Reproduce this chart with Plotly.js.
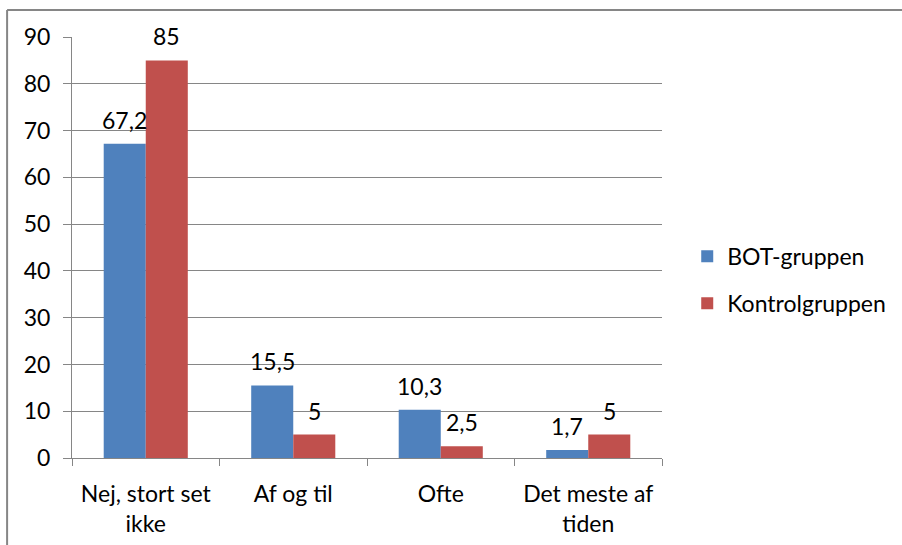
<!DOCTYPE html>
<html><head><meta charset="utf-8">
<script src="https://cdn.plot.ly/plotly-3.0.1.min.js"></script>
<style>html,body{margin:0;padding:0;background:#fff}#chart{width:902px;height:545px}</style>
</head><body><div id="chart"></div>
<script>
const categories = ["Nej, stort set<br>ikke", "Af og til", "Ofte", "Det meste af<br>tiden"];
const botValues = [67.2, 15.5, 10.3, 1.7];
const kontrolValues = [85, 5, 2.5, 5];
const seriesNames = ["BOT-gruppen", "Kontrolgruppen"];
const yTicks = [0, 10, 20, 30, 40, 50, 60, 70, 80, 90];

const fmt = v => String(v).replace('.', ',');
const font = "Lato, 'Open Sans', sans-serif";
const FS = 23;

const traces = [
  {type:'bar', x:categories, y:botValues, name:seriesNames[0], legendgroup:'a',
   marker:{color:'#4F81BD'}, hoverinfo:'none'},
  {type:'bar', x:categories, y:kontrolValues, name:seriesNames[1], legendgroup:'b',
   marker:{color:'#C0504D'}, hoverinfo:'none'}
];

const annotations = [];
[[botValues, -21], [kontrolValues, 21]].forEach(([vals, dx]) => {
  vals.forEach((v, i) => annotations.push({
    x: categories[i], y: v, xref:'x', yref:'y', text: fmt(v), showarrow:false,
    xanchor:'center', yanchor:'bottom', xshift: dx, yshift: 8,
    font:{family:font, size:FS, color:'#000'}
  }));
});

const layout = {
  width:902, height:545,
  margin:{l:72, r:239, t:37, b:87},
  paper_bgcolor:'#fff', plot_bgcolor:'#fff',
  font:{family:font, size:FS, color:'#000'},
  barmode:'group', bargap:0.43, bargroupgap:0,
  showlegend:true,
  legend:{x:1.041, y:0.423, xanchor:'left', yanchor:'middle', tracegroupgap:14,
          font:{family:font,size:FS,color:'#000'}, itemwidth:30},
  xaxis:{type:'category', tickson:'boundaries', ticks:'outside', ticklen:7, tickcolor:'#868686',
         showline:true, linecolor:'#868686', linewidth:1, showgrid:false, ticklabelstandoff:15,
         tickfont:{family:font,size:FS,color:'#000'}, automargin:false},
  yaxis:{range:[0,90], tickvals:yTicks, ticks:'outside', ticklen:8, tickcolor:'#868686',
         showline:true, linecolor:'#868686', linewidth:1, showgrid:true, gridcolor:'#868686',
         zeroline:false, ticklabelstandoff:8, tickfont:{family:font,size:FS,color:'#000'}, automargin:false},
  annotations: annotations,
  shapes:[
    {type:'line', xref:'paper', yref:'paper', x0:-0.11, x1:1.42, y0:1.064, y1:1.064, line:{color:'#868686', width:2}},
    {type:'line', xref:'paper', yref:'paper', x0:-0.11, x1:-0.11, y0:1.064, y1:-0.25, line:{color:'#868686', width:2}}
  ]
};
Plotly.newPlot('chart', traces, layout, {displayModeBar:false, staticPlot:true});
</script></body></html>
